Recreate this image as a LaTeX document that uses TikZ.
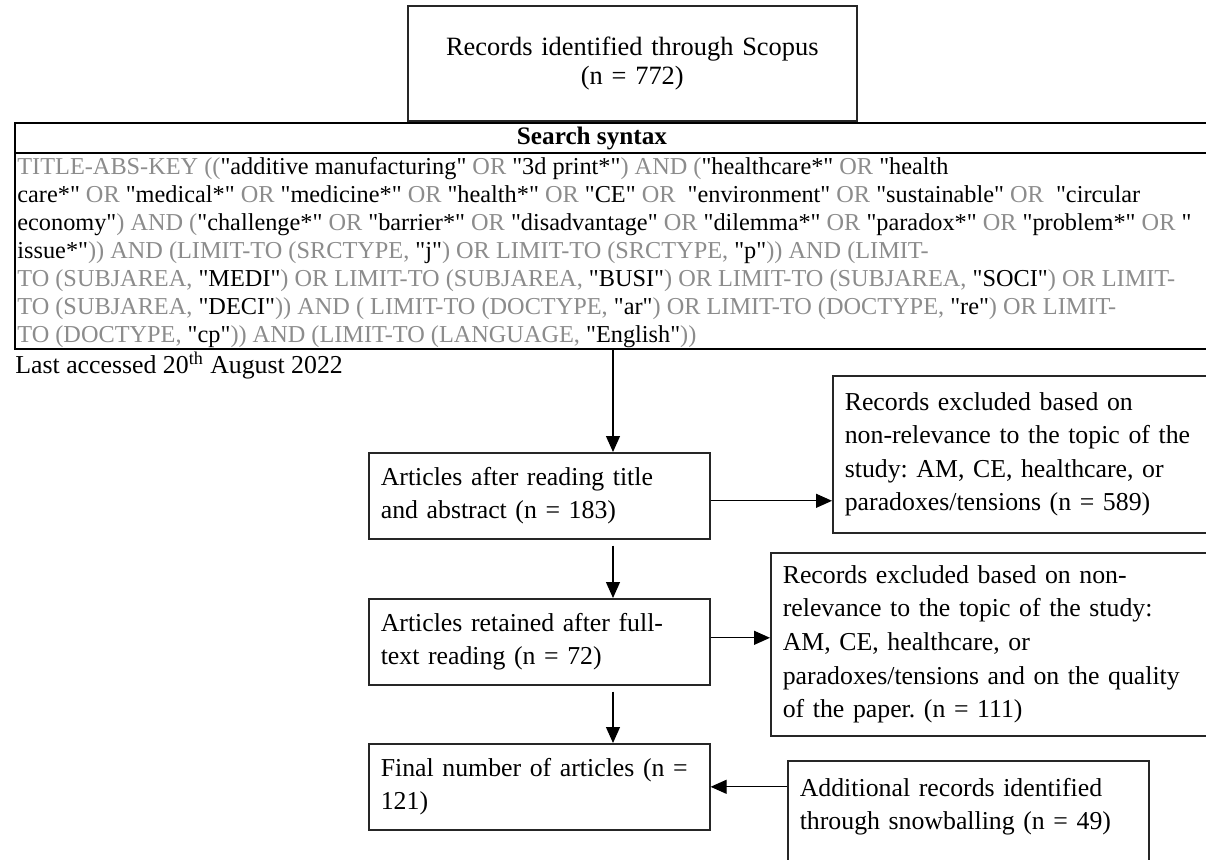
\documentclass[tikz,border=0pt]{standalone}
\usepackage{fontspec}
\setmainfont{Liberation Serif}[Ligatures=TeXOff]
\usepackage{xcolor}
\usetikzlibrary{arrows.meta}
\definecolor{syngray}{RGB}{140,140,140}
\newcommand{\grayop}[1]{\textcolor{syngray}{#1}}
\newcommand{\flowfont}{\fontsize{12.9}{16.8}\selectfont}
\newcommand{\synfont}{\fontsize{12.15}{14}\selectfont}
\frenchspacing

\begin{document}
\begin{tikzpicture}[x=0.5pt,y=-0.5pt,
  box/.style={draw=black!85, line width=0.8pt, align=left, font=\flowfont, inner xsep=6pt, anchor=north west},
  arr/.style={-{Triangle[length=8pt,width=7pt]}, line width=0.6pt}]
\useasboundingbox (0,0) rectangle (1206,859);
\node[box, align=center, text width=212.5pt, minimum height=57.5pt, font=\fontsize{13.2}{14.5}\selectfont] (scopus) at (407,5) {Records identified through Scopus\\(n = 772)};
\draw [line width=1.3pt] (15,123) rectangle (1240,349);
\draw [line width=1.3pt] (15,153) -- (1240,153);
\node [font=\fontsize{12.6}{14}\selectfont\bfseries] (synhead) at (592,138) {Search syntax};
\node [anchor=north west, align=left, font=\synfont, inner sep=0pt] (syntax) at (17,157) {%
\grayop{TITLE-ABS-KEY ((}"additive manufacturing" \grayop{OR} "3d print*"\grayop{) AND (}"healthcare*" \grayop{OR} "health\\
care*" \grayop{OR} "medical*" \grayop{OR} "medicine*" \grayop{OR} "health*" \grayop{OR} "CE" \grayop{OR}\ \ "environment" \grayop{OR} "sustainable" \grayop{OR}\ \ "circular\\
economy"\grayop{) AND (}"challenge*" \grayop{OR} "barrier*" \grayop{OR} "disadvantage" \grayop{OR} "dilemma*" \grayop{OR} "paradox*" \grayop{OR} "problem*" \grayop{OR} "\\
issue*"\grayop{)) AND (LIMIT-TO (SRCTYPE,} "j"\grayop{) OR LIMIT-TO (SRCTYPE,} "p"\grayop{)) AND (LIMIT-}\\
\grayop{TO (SUBJAREA,} "MEDI"\grayop{) OR LIMIT-TO (SUBJAREA,} "BUSI"\grayop{) OR LIMIT-TO (SUBJAREA,} "SOCI"\grayop{) OR LIMIT-}\\
\grayop{TO (SUBJAREA,} "DECI"\grayop{)) AND ( LIMIT-TO (DOCTYPE,} "ar"\grayop{) OR LIMIT-TO (DOCTYPE,} "re"\grayop{) OR LIMIT-}\\
\grayop{TO (DOCTYPE,} "cp"\grayop{)) AND (LIMIT-TO (LANGUAGE,} "English"\grayop{))}};
\node [anchor=north west, font=\flowfont, inner sep=0pt] (accessed) at (15,352) {Last accessed 20\textsuperscript{th} August 2022};
\node[box, text width=158.5pt, minimum height=43pt] (box2) at (368,452) {Articles after reading title\\and abstract (n = 183)};
\node[box, text width=158.5pt, minimum height=43pt] (box3) at (368,598) {Articles retained after full-\\text reading (n = 72)};
\node[box, text width=158.5pt, minimum height=43pt] (box4) at (368,743) {Final number of articles (n =\\121)};
\node[box, text width=200pt, minimum height=78.5pt] (excl1) at (832,375) {Records excluded based on\\non-relevance to the topic of the\\study: AM, CE, healthcare, or\\paradoxes/tensions (n = 589)};
\node[box, text width=230pt, minimum height=91.5pt] (excl2) at (770,552) {Records excluded based on non-\\relevance to the topic of the study:\\AM, CE, healthcare, or\\paradoxes/tensions and on the quality\\of the paper. (n = 111)};
\node[box, text width=168.5pt, minimum height=60pt] (snow) at (787,760) {Additional records identified\\through snowballing (n = 49)\\\mbox{}};
\coordinate (srcout) at (613,349);
\draw[arr] (srcout) -- (srcout |- box2.north);
\draw[arr, shorten <=3pt] (srcout |- box2.south) -- (srcout |- box3.north);
\draw[arr, shorten <=3pt] (srcout |- box3.south) -- (srcout |- box4.north);
\draw[arr] ([yshift=-2.5pt]box2.east) -- ([yshift=-2.5pt]box2.east -| excl1.west);
\draw[arr] ([yshift=2pt]box3.east) -- ([yshift=2pt]box3.east -| excl2.west);
\draw[arr] (snow.west |- box4.east) -- (box4.east);
\end{tikzpicture}
\end{document}
